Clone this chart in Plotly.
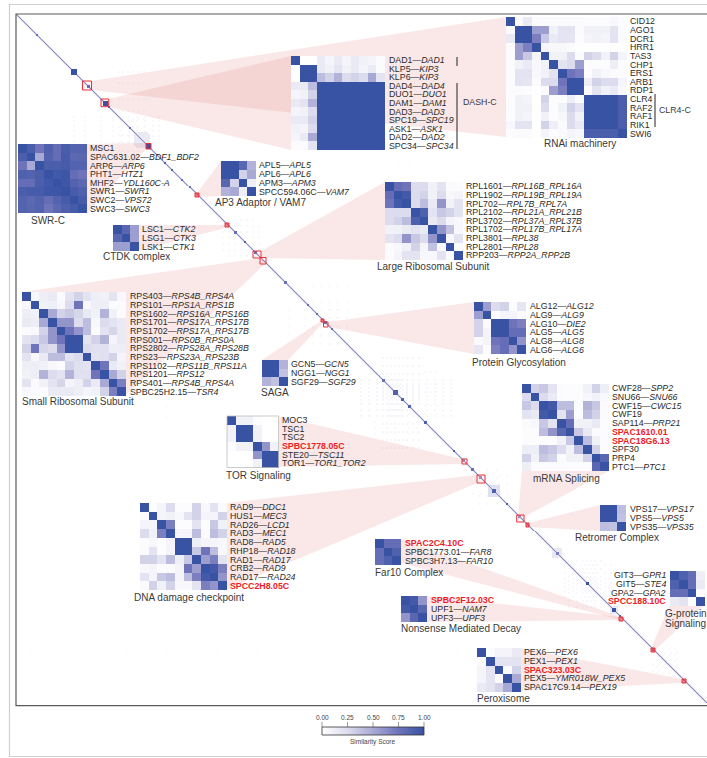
import numpy as np
import plotly.graph_objects as go

WIDTH = 707
HEIGHT = 758

# Inset matrices
swr_values = [[1, .92, .75, .9, .8, .92, .88, .88],
              [.92, 1, .5, .88, .8, .94, .84, .85],
              [.75, .5, 1, .92, .92, .94, .88, .88],
              [.9, .88, .92, 1, .96, .98, .8, .75],
              [.8, .8, .92, .96, 1, .98, .88, .84],
              [.92, .94, .94, .98, .98, 1, .94, .9],
              [.88, .84, .88, .8, .88, .94, 1, .94],
              [.88, .85, .88, .75, .84, .9, .94, 1]]
ap3_values = [[1, 1, .85, .45], [1, 1, .3, .5], [.85, .3, 1, .12], [.45, .5, .12, 1]]
ctdk_values = [[1, .85, .55], [.85, 1, .55], [.55, .55, 1]]
saga_values = [[1, 1, .45], [1, 1, .38], [.45, .38, 1]]
retromer_values = [[1, 1, .4], [1, 1, .38], [.4, .38, 1]]
far10_values = [[1, .8, .8], [.8, 1, .9], [.8, .9, 1]]
nmd_values = [[1, .95, .6], [.95, 1, .85], [.6, .85, 1]]
gprotein_values = [[1, .9, .8, .12], [.9, 1, .8, .15], [.8, .8, 1, .02], [.15, .2, .02, 1]]
perox_values = [[1, .03, .08, .08, .15],
                [.03, 1, .2, .2, .2],
                [.08, .2, 1, .03, .3],
                [.08, .2, .03, 1, .5],
                [.15, .2, .3, .5, 1]]
tor_values = [[1, .1, .1, .02, 0, 0],
              [.1, 1, 1, .1, 0, 0],
              [.1, 1, 1, .1, 0, 0],
              [.02, .1, .1, 1, .6, .1],
              [0, 0, 0, .6, 1, 1],
              [0, 0, 0, .1, 1, 1]]
alg_values = [[1, .55, .25, .3, .02, .18],
              [.55, 1, .02, .08, .08, .03],
              [.3, .03, 1, 1, .75, .7],
              [.3, .08, 1, 1, .8, .8],
              [.03, .08, .75, .8, 1, .6],
              [.18, .03, .7, .8, .6, 1]]
rnai_values = [[1, .03, .15, .03, .03, .03, .03, .03, .03, .02, .02, .02, .05, .02],
               [.03, 1, 1, .55, .55, .1, .2, .2, .03, .1, .1, .1, .2, .03],
               [.15, 1, 1, .7, .35, .15, .2, .18, .02, .08, .1, .08, .2, .03],
               [.03, .55, .7, 1, .08, .05, .05, .03, .01, .01, .01, .01, .01, .01],
               [.03, .55, .35, .08, 1, .1, .1, .25, .03, .3, .25, .1, .3, .08],
               [.03, .1, .15, .05, .1, 1, .2, .25, .55, .02, .02, .02, .12, .02],
               [.03, .2, .2, .05, .1, .2, 1, .75, .7, .02, .1, .05, .03, .03],
               [.03, .2, .18, .03, .25, .25, .75, 1, 1, .12, .3, .25, .25, .08],
               [.03, .03, .02, .01, .03, .55, .7, 1, 1, .03, .2, .1, .15, .05],
               [.02, .1, .08, .01, .3, .02, .02, .12, .03, 1, 1, 1, 1, .92],
               [.02, .1, .1, .01, .25, .02, .1, .3, .2, 1, 1, 1, 1, .92],
               [.02, .1, .08, .01, .1, .02, .05, .25, .1, 1, 1, 1, 1, .92],
               [.05, .2, .2, .01, .3, .12, .03, .25, .15, 1, 1, 1, 1, .92],
               [.02, .03, .03, .01, .08, .02, .03, .08, .05, .92, .92, .92, .92, 1]]
dash_values = [[1, 0, 0, .15, .08, .15, .08, .15, .1, .08, .03],
               [0, 1, 1, .15, .1, .2, .1, .15, .08, .15, .03],
               [0, 1, 1, .4, .3, .45, .25, .3, .25, .5, .2],
               [.15, .15, .4, 1, 1, 1, 1, 1, 1, 1, 1],
               [.08, .1, .3, 1, 1, 1, 1, 1, 1, 1, 1],
               [.15, .2, .45, 1, 1, 1, 1, 1, 1, 1, 1],
               [.08, .1, .25, 1, 1, 1, 1, 1, 1, 1, 1],
               [.15, .15, .3, 1, 1, 1, 1, 1, 1, 1, 1],
               [.1, .08, .25, 1, 1, 1, 1, 1, 1, 1, 1],
               [.08, .15, .5, 1, 1, 1, 1, 1, 1, 1, 1],
               [.03, .03, .2, 1, 1, 1, 1, 1, 1, 1, 1]]
large_values = [[1, .8, .75, .25, .25, .1, .2, .03, .02],
                [.8, 1, .95, .25, .3, .1, .25, .05, .08],
                [.75, .95, 1, .25, .4, .15, .6, .1, .2],
                [.25, .25, .25, 1, .9, .2, .35, .3, .2],
                [.25, .3, .4, .9, 1, .15, .25, .08, .05],
                [.1, .1, .15, .2, .15, 1, .6, .38, .05],
                [.2, .25, .6, .35, .25, .6, 1, .05, .2],
                [.03, .05, .1, .3, .08, .38, .05, 1, .03],
                [.02, .08, .2, .2, .05, .05, .2, .03, 1]]
small_values = [[1, .05, .12, .15, .03, .2, .3, .2, .12, .1, .2, .05],
                [.05, 1, .1, .12, .05, .25, .75, .05, .12, .12, .03, .03],
                [.12, .1, 1, .5, .3, .35, .28, .15, .1, .45, .1, .03],
                [.15, .12, .5, 1, .6, .6, .25, .4, .05, .25, .2, .15],
                [.03, .05, .3, .6, 1, .75, .6, .4, .03, .2, .28, .15],
                [.2, .25, .35, .6, .75, 1, 1, .2, .3, .45, .08, .15],
                [.3, .75, .28, .25, .6, 1, 1, .25, .22, .22, .12, .12],
                [.2, .05, .15, .4, .4, .2, .25, 1, .2, .22, .3, .08],
                [.12, .12, .1, .05, .03, .3, .22, .2, 1, .75, .15, .1],
                [.1, .12, .45, .25, .2, .45, .22, .22, .75, 1, .5, .3],
                [.2, .03, .1, .2, .28, .08, .12, .3, .15, .5, 1, .7],
                [.05, .03, .03, .15, .15, .15, .12, .08, .1, .3, .7, 1]]
mrna_values = [[1, .3, .35, .2, .03, .02, .02, .1, .3, .12],
               [.25, 1, .25, .15, .03, .02, .02, .05, .1, .05],
               [.35, .25, 1, .95, .4, .4, .02, .45, .35, .03],
               [.2, .15, .95, 1, .2, .55, .02, .4, .3, .03],
               [.03, .05, .35, .2, 1, .8, .1, .1, .15, .02],
               [.02, .02, .4, .6, .85, 1, .35, .15, .03, .02],
               [.02, .02, .02, .02, .1, .35, 1, .4, .1, .02],
               [.12, .12, .4, .35, .25, .1, .4, 1, .3, .02],
               [.3, .1, .35, .3, .03, .1, .1, .3, 1, .85],
               [.12, .03, .03, .03, .03, .02, .02, .02, .85, 1]]
dna_values = [[1, .02, .08, .25, .02, .02, .3, .05, .2, .03],
              [.02, 1, .08, .1, .05, .2, .3, .08, .08, .3],
              [.08, .08, 1, .7, .02, .02, .2, .02, .35, .1],
              [.25, .1, .7, 1, .08, .08, .4, .03, .4, .3],
              [.02, .05, .02, .08, 1, 1, .12, .08, .08, .05],
              [.03, .2, .02, .08, 1, 1, .35, .75, .4, .05],
              [.3, .3, .2, .4, .12, .35, 1, .55, .7, .2],
              [.05, .08, .02, .03, .08, .75, .55, 1, .95, .7],
              [.2, .08, .35, .4, .08, .4, .7, .95, 1, .6],
              [.03, .3, .1, .3, .05, .05, .2, .7, .6, 1]]

# Row labels: protein, gene (empty gene = protein only)
swr_proteins = ["MSC1", "SPAC631.02", "ARP6", "PHT1", "MHF2", "SWR1", "SWC2", "SWC3"]
swr_genes = ["", "BDF1_BDF2", "ARP6", "HTZ1", "YDL160C-A", "SWR1", "VPS72", "SWC3"]
ap3_proteins = ["APL5", "APL6", "APM3", "SPCC594.06C"]
ap3_genes = ["APL5", "APL6", "APM3", "VAM7"]
ctdk_proteins = ["LSC1", "LSG1", "LSK1"]
ctdk_genes = ["CTK2", "CTK3", "CTK1"]
saga_proteins = ["GCN5", "NGG1", "SGF29"]
saga_genes = ["GCN5", "NGG1", "SGF29"]
retromer_proteins = ["VPS17", "VPS5", "VPS35"]
retromer_genes = ["VPS17", "VPS5", "VPS35"]
far10_proteins = ["SPAC2C4.10C", "SPBC1773.01", "SPBC3H7.13"]
far10_genes = ["", "FAR8", "FAR10"]
nmd_proteins = ["SPBC2F12.03C", "UPF1", "UPF3"]
nmd_genes = ["", "NAM7", "UPF3"]
gprotein_proteins = ["GIT3", "GIT5", "GPA2", "SPCC188.10C"]
gprotein_genes = ["GPR1", "STE4", "GPA2", ""]
perox_proteins = ["PEX6", "PEX1", "SPAC323.03C", "PEX5", "SPAC17C9.14"]
perox_genes = ["PEX6", "PEX1", "", "YMR018W_PEX5", "PEX19"]
tor_proteins = ["MOC3", "TSC1", "TSC2", "SPBC1778.05C", "STE20", "TOR1"]
tor_genes = ["", "", "", "", "TSC11", "TOR1_TOR2"]
alg_proteins = ["ALG12", "ALG9", "ALG10", "ALG5", "ALG8", "ALG6"]
alg_genes = ["ALG12", "ALG9", "DIE2", "ALG5", "ALG8", "ALG6"]
rnai_proteins = ["CID12", "AGO1", "DCR1", "HRR1", "TAS3", "CHP1", "ERS1", "ARB1", "RDP1",
                 "CLR4", "RAF2", "RAF1", "RIK1", "SWI6"]
rnai_genes = [""] * 14
dash_proteins = ["DAD1", "KLP5", "KLP6", "DAD4", "DUO1", "DAM1", "DAD3", "SPC19", "ASK1", "DAD2", "SPC34"]
dash_genes = ["DAD1", "KIP3", "KIP3", "DAD4", "DUO1", "DAM1", "DAD3", "SPC19", "ASK1", "DAD2", "SPC34"]
large_proteins = ["RPL1601", "RPL1902", "RPL702", "RPL2102", "RPL3702", "RPL1702", "RPL3801", "RPL2801", "RPP203"]
large_genes = ["RPL16B_RPL16A", "RPL19B_RPL19A", "RPL7B_RPL7A", "RPL21A_RPL21B", "RPL37A_RPL37B",
               "RPL17B_RPL17A", "RPL38", "RPL28", "RPP2A_RPP2B"]
small_proteins = ["RPS403", "RPS101", "RPS1602", "RPS1701", "RPS1702", "RPS001", "RPS2802", "RPS23",
                  "RPS1102", "RPS1201", "RPS401", "SPBC25H2.15"]
small_genes = ["RPS4B_RPS4A", "RPS1A_RPS1B", "RPS16A_RPS16B", "RPS17A_RPS17B", "RPS17A_RPS17B", "RPS0B_RPS0A",
               "RPS28A_RPS28B", "RPS23A_RPS23B", "RPS11B_RPS11A", "RPS12", "RPS4B_RPS4A", "TSR4"]
mrna_proteins = ["CWF28", "SNU66", "CWF15", "CWF19", "SAP114", "SPAC1610.01", "SPAC18G6.13", "SPF30", "PRP4", "PTC1"]
mrna_genes = ["SPP2", "SNU66", "CWC15", "", "PRP21", "", "", "", "", "PTC1"]
dna_proteins = ["RAD9", "HUS1", "RAD26", "RAD3", "RAD8", "RHP18", "RAD1", "CRB2", "RAD17", "SPCC2H8.05C"]
dna_genes = ["DDC1", "MEC3", "LCD1", "MEC1", "RAD5", "RAD18", "RAD17", "RAD9", "RAD24", ""]

red_proteins = ["SPAC2C4.10C", "SPBC2F12.03C", "SPCC188.10C", "SPAC323.03C", "SPBC1778.05C",
                "SPAC1610.01", "SPAC18G6.13", "SPCC2H8.05C"]

# Main matrix: position along the diagonal, block size, score
diag_start = [20, 55, 71, 87, 92, 113, 130, 148, 155, 165, 173, 218, 228, 238, 268, 291, 300,
              308, 315, 366, 377, 385, 392, 408, 437, 446, 455, 463, 476, 490, 502, 540, 570, 596, 603, 636]
diag_size = [2, 6, 3, 5, 2, 2, 5, 2, 2, 2, 2, 3, 2, 3, 3, 2, 2, 3, 2, 3, 5, 3, 3, 3, 2, 3, 3, 3, 4, 2, 3, 3, 3, 4, 2, 3]
diag_score = [.8, 1, .8, 1, .9, .8, 1, .9, .9, .8, .8, .8, .9, .8, .8, .8, .8, .8, .8, .8, .9, .9,
              .9, .9, .9, .6, .8, .6, .9, .9, .6, .7, 1, 1, .9, .6]

# Faint off-diagonal patches: rows, columns, score
faint_patches = [
    ([102, 106, 111, 116, 121, 127], [57, 68, 84, 96, 104, 112, 120, 128, 136, 142], .05),
    ([120, 122, 124, 126, 128, 130], [118, 120, 122, 124, 126, 128, 130, 132], .15),
    ([212, 218, 224, 230, 236], [206, 212, 218, 224, 230, 236, 242], .05),
    ([296, 304, 312, 320, 330], [272, 288, 296, 304, 314, 322, 330], .04),
    ([366, 370, 374, 378, 382, 386, 390, 396, 402], [344, 352, 360, 366, 372, 376, 380, 384, 390, 396, 402, 410, 418, 426, 434], .07),
    ([408, 414, 420], [358, 370, 378, 392, 400], .04),
    ([462, 470, 480], [456, 464, 482, 490], .05),
    ([472, 474, 476, 478, 480, 482], [472, 474, 476, 478, 480, 482], .22),
    ([536, 538, 540, 542, 544], [536, 538, 540, 542, 544], .16),
    ([552, 560, 566, 570, 574, 578, 584], [548, 556, 564, 568, 572, 576, 580, 588, 594], .05),
    ([594, 596, 598, 600], [594, 596, 598, 600], .15),
    ([640, 646, 652, 658], [636, 642, 648, 654, 660], .04),
    ([382, 392, 404], [150, 170, 210, 250], .03),
    ([636, 640], [14, 60, 110, 150, 200, 240, 300, 380, 440], .012),
    ([500, 515, 530], [30, 90, 130, 190, 260, 300], .012),
    ([40, 48], [90, 110, 130, 160], .015),
]

# Colour bar ticks
bar_ticks = [0, .25, .5, .75, 1]
bar_tick_labels = ["0.00", "0.25", "0.50", "0.75", "1.00"]

matrix = np.zeros((691, 691))
for rows, cols, score in faint_patches:
    for r in rows:
        for c in cols:
            matrix[r:r + 2, c:c + 2] = np.maximum(matrix[r:r + 2, c:c + 2], score)
            matrix[c:c + 2, r:r + 2] = np.maximum(matrix[c:c + 2, r:r + 2], score)
# diagonal line, a bit soft on both sides
matrix[np.arange(690), np.arange(1, 691)] = .25
matrix[np.arange(1, 691), np.arange(690)] = .25
np.fill_diagonal(matrix, .66)
for start, size, score in zip(diag_start, diag_size, diag_score):
    matrix[start:start + size, start:start + size] = score

fig = go.Figure()

# Main similarity matrix
fig.add_trace(go.Heatmap(z=matrix, x0=16.5, dx=1, y0=14.5, dy=0.997, coloraxis="coloraxis", hoverinfo="skip"))

# Pink wedges from the zoomed spot to its inset
wedges = [
    [(91, 81), (506, 17), (506, 137), (91, 90)],
    [(108, 99), (291, 56), (291, 150), (108, 107)],
    [(146, 143), (87, 144), (87, 213), (146, 149)],
    [(197, 193), (221, 161), (221, 196), (197, 197)],
    [(225, 225), (138, 225), (138, 251), (225, 228)],
    [(261, 251), (385, 182), (385, 260), (261, 258)],
    [(262, 258), (22, 292), (126, 395), (265, 264)],
    [(328, 322), (474, 302), (474, 354), (328, 327)],
    [(321, 321), (262, 360), (288, 360), (324, 322)],
    [(462, 459), (278, 416), (278, 467), (462, 464)],
    [(477, 475), (227, 503), (227, 589), (477, 483)],
    [(518, 516), (522, 471), (609, 471), (524, 517)],
    [(528, 523), (600, 505), (600, 531), (528, 527)],
    [(621, 617), (401, 539), (401, 563), (621, 620)],
    [(619, 617), (427, 596), (427, 622), (619, 620)],
    [(651, 648), (670, 605), (704, 605), (655, 650)],
    [(682, 679), (520, 648), (520, 691), (682, 683)],
]
for wedge in wedges:
    fig.add_trace(go.Scatter(x=[p[0] for p in wedge], y=[p[1] for p in wedge], mode="lines", fill="toself",
                             fillcolor="rgba(222,120,115,0.17)", line=dict(width=0), hoverinfo="skip"))

# values, proteins, genes, left, top, width, label x, label side
insets = [
    (swr_values, swr_proteins, swr_genes, 18, 144, 69, 89, "left"),
    (ap3_values, ap3_proteins, ap3_genes, 221, 161, 35, 258, "left"),
    (ctdk_values, ctdk_proteins, ctdk_genes, 113, 225, 26, 141, "left"),
    (saga_values, saga_proteins, saga_genes, 262, 360, 26, 290, "left"),
    (retromer_values, retromer_proteins, retromer_genes, 600, 505, 26, 628.5, "left"),
    (far10_values, far10_proteins, far10_genes, 375, 539, 26, 403.5, "left"),
    (nmd_values, nmd_proteins, nmd_genes, 401, 596, 26, 430, "left"),
    (gprotein_values, gprotein_proteins, gprotein_genes, 670, 571, 34.5, 667, "right"),
    (perox_values, perox_proteins, perox_genes, 477, 648, 43.5, 523, "left"),
    (tor_values, tor_proteins, tor_genes, 227, 416, 51.5, 281, "left"),
    (alg_values, alg_proteins, alg_genes, 474, 302, 52, 529, "left"),
    (rnai_values, rnai_proteins, rnai_genes, 506, 17, 121, 629, "left"),
    (dash_values, dash_proteins, dash_genes, 291, 56, 94, 388, "left"),
    (large_values, large_proteins, large_genes, 385, 182, 77.5, 465, "left"),
    (small_values, small_proteins, small_genes, 22, 292, 104, 128.5, "left"),
    (mrna_values, mrna_proteins, mrna_genes, 522, 384, 87, 611, "left"),
    (dna_values, dna_proteins, dna_genes, 140, 503, 87, 228.5, "left"),
]
for values, proteins, genes, left, top, size, label_x, side in insets:
    cell = size / len(values)
    fig.add_trace(go.Heatmap(z=values, x0=left + cell / 2, dx=cell, y0=top + cell / 2, dy=cell,
                             coloraxis="coloraxis", xaxis="x2", yaxis="y2", hoverinfo="skip"))
    for i, (protein, gene) in enumerate(zip(proteins, genes)):
        if protein in red_proteins:
            text = "<b>" + protein + "</b>"
            color = "#ee1c25"
        elif gene:
            text = protein + "\u2014<i>" + gene + "</i>"
            color = "#2b2b2b"
        else:
            text = protein
            color = "#2b2b2b"
        fig.add_annotation(x=label_x, y=top + cell * (i + 0.5), text=text, showarrow=False, xanchor=side,
                           yanchor="middle", borderpad=0, font=dict(size=8.8, color=color))

# Inset titles
titles = [
    ("SWR-C", 30, 220), ("AP3 Adaptor / VAM7", 214, 202), ("CTDK complex", 102, 256),
    ("RNAi machinery", 543, 143), ("Large Ribosomal Subunit", 376, 266), ("Small Ribosomal Subunit", 21, 401),
    ("SAGA", 260, 392), ("TOR Signaling", 225, 475), ("Protein Glycosylation", 471, 362),
    ("mRNA Splicing", 532, 478), ("DNA damage checkpoint", 133, 597), ("Retromer Complex", 574, 537),
    ("Far10 Complex", 374, 572), ("Nonsense Mediated Decay", 400, 628), ("G-protein", 664, 613),
    ("Signaling", 664, 623), ("Peroxisome", 476, 698), ("DASH-C", 462, 102), ("CLR4-C", 658, 110),
]
for text, x, y in titles:
    size = 8.8 if text in ("DASH-C", "CLR4-C") else 10
    fig.add_annotation(x=x, y=y, text=text, showarrow=False, xanchor="left", yanchor="middle", borderpad=0,
                       font=dict(size=size, color="#3a3a3a"))

shapes = []

# Colour bar, drawn as its own small heatmap
bar_left, bar_width, bar_top, bar_bottom = 322, 102, 727, 735
fig.add_trace(go.Heatmap(z=[np.linspace(0, 1, 102)], x0=bar_left + 0.5, dx=bar_width / 102,
                         y0=(bar_top + bar_bottom) / 2, dy=bar_bottom - bar_top,
                         coloraxis="coloraxis", xaxis="x2", yaxis="y2", hoverinfo="skip"))
shapes.append(dict(type="rect", x0=bar_left, x1=bar_left + bar_width, y0=bar_top, y1=bar_bottom,
                   line=dict(color="#333333", width=0.8)))
for value, label in zip(bar_ticks, bar_tick_labels):
    tick_x = bar_left + value * bar_width
    shapes.append(dict(type="line", x0=tick_x, x1=tick_x, y0=722, y1=bar_top, line=dict(color="#555555", width=0.6)))
    fig.add_annotation(x=tick_x, y=717.5, text=label, showarrow=False, xanchor="center", yanchor="middle",
                       borderpad=0, font=dict(size=6.5, color="#444444"))
fig.add_annotation(x=bar_left + bar_width / 2, y=741.5, text="Similarity Score", showarrow=False, xanchor="center",
                   yanchor="middle", borderpad=0, font=dict(size=6.5, color="#444444"))

# Outer and inner frames
shapes.append(dict(type="path", path="M 707 4.5 L 9.5 4.5 L 9.5 756.5 L 707 756.5", line=dict(color="#cfcfcf", width=1.2)))
shapes.append(dict(type="path", path="M 707 14 L 16 14 L 16 705.7 L 707 705.7", line=dict(color="#5a5a5a", width=1.2)))
# Bracket lines next to the inset labels
for x, y0, y1 in [(457, 57, 66), (457, 83, 149), (655, 94, 127)]:
    shapes.append(dict(type="line", x0=x, x1=x, y0=y0, y1=y1, line=dict(color="#222222", width=1)))
# TOR inset border
shapes.append(dict(type="rect", x0=227, x1=278.5, y0=416, y1=467.5, line=dict(color="#bdbdbd", width=0.8)))
# Red marks on the diagonal
red_boxes = [(82.5, 81, 91.5, 90), (101, 99, 108.7, 106.7), (146, 143.5, 151, 149), (195, 193, 199, 197),
             (225, 223, 229, 227), (253, 251, 261, 258), (260, 257.5, 266, 264), (321, 319, 324, 322),
             (323.5, 322, 328, 327), (462, 459, 467, 464), (477, 475, 485, 483), (516.7, 515, 524, 522),
             (526, 523, 529, 527), (619, 617, 623, 621), (651, 648, 655, 652), (682, 679, 686, 683)]
for x0, y0, x1, y1 in red_boxes:
    small = x1 - x0 < 4.5
    shapes.append(dict(type="rect", x0=x0, x1=x1, y0=y0, y1=y1, line=dict(color="#e8303a", width=1),
                       fillcolor="rgba(232,48,58,0.6)" if small else "rgba(232,48,58,0.06)"))

for shape in shapes:
    shape.update(xref="x", yref="y", layer="above")

fig.update_layout(
    width=WIDTH, height=HEIGHT,
    margin=dict(l=0, r=0, t=0, b=0, autoexpand=False),
    paper_bgcolor="white", plot_bgcolor="white",
    showlegend=False,
    font=dict(family="Liberation Sans, Arial, sans-serif"),
    shapes=shapes,
    xaxis=dict(range=[0, WIDTH], visible=False, domain=[0, 1]),
    yaxis=dict(range=[HEIGHT, 0], visible=False, domain=[0, 1]),
    xaxis2=dict(range=[0, WIDTH], visible=False, overlaying="x"),
    yaxis2=dict(range=[HEIGHT, 0], visible=False, overlaying="y"),
    coloraxis=dict(
        cmin=0, cmax=1, showscale=False,
        colorscale=[[0, "#ffffff"], [.25, "#dcdcee"], [.5, "#a9a9d5"], [.75, "#6f74ba"], [1, "#3953a4"]],
    ),
)

# the page's default body margin would push the figure 8px off
fig.write_html("out.html", config={"displayModeBar": False}, post_script="document.body.style.margin='0';")
